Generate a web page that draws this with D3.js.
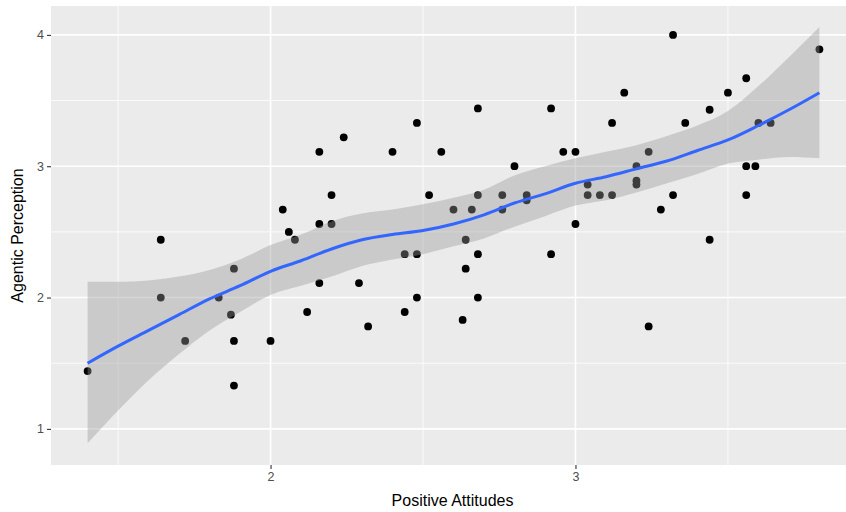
<!DOCTYPE html>
<html>
<head>
<meta charset="utf-8">
<script src="https://cdn.jsdelivr.net/npm/d3@7"></script>
<style>
  body { margin: 0; background: #fff; }
  text { font-family: "Liberation Sans", Arial, Helvetica, sans-serif; }
</style>
</head>
<body>
<div id="chart"></div>
<script>
// scatter points (Positive Attitudes, Agentic Perception)
const pointX = [2.04, 2.06, 2.08, 1.64, 2.16, 2.24, 2.48, 2.40, 2.56, 2.68, 2.92, 2.96, 2.80, 2.20, 2.52,
  2.68, 2.76, 2.84, 2.84, 2.60, 2.66, 2.76, 2.16, 2.20, 2.64, 3.32, 3.80, 3.56, 3.16, 3.50, 3.44, 3.12,
  3.36, 3.60, 3.64, 3.00, 3.24, 3.20, 3.56, 3.59, 3.20, 3.20, 3.04, 3.04, 3.08, 3.12, 3.32, 3.56, 3.28,
  3.00, 3.44, 1.88, 1.64, 1.83, 1.87, 2.12, 1.72, 1.88, 2.00, 1.40, 1.88, 2.44, 2.48, 2.68, 2.92, 2.64,
  2.16, 2.29, 2.48, 2.68, 2.44, 2.63, 2.32, 3.24];
const pointY = [2.67, 2.50, 2.44, 2.44, 3.11, 3.22, 3.33, 3.11, 3.11, 3.44, 3.44, 3.11, 3.00, 2.78, 2.78,
  2.78, 2.78, 2.78, 2.74, 2.67, 2.67, 2.67, 2.56, 2.56, 2.44, 4.00, 3.89, 3.67, 3.56, 3.56, 3.43, 3.33,
  3.33, 3.33, 3.33, 3.11, 3.11, 3.00, 3.00, 3.00, 2.89, 2.86, 2.86, 2.78, 2.78, 2.78, 2.78, 2.78, 2.67,
  2.56, 2.44, 2.22, 2.00, 2.00, 1.87, 1.89, 1.67, 1.67, 1.67, 1.44, 1.33, 2.33, 2.33, 2.33, 2.33, 2.22,
  2.11, 2.11, 2.00, 2.00, 1.89, 1.83, 1.78, 1.78];

// smooth line and its confidence band
const fitX = [1.4, 1.5, 1.6, 1.7, 1.8, 1.9, 2.0, 2.1, 2.2, 2.3, 2.4, 2.5, 2.6, 2.7, 2.8, 2.9,
  3.0, 3.1, 3.2, 3.3, 3.4, 3.5, 3.6, 3.7, 3.8];
const fitY = [1.50, 1.63, 1.75, 1.87, 1.99, 2.09, 2.20, 2.28, 2.37, 2.44, 2.48, 2.51, 2.56, 2.63, 2.72,
  2.79, 2.87, 2.92, 2.98, 3.04, 3.12, 3.20, 3.31, 3.43, 3.56];
const fitLower = [0.89, 1.14, 1.37, 1.57, 1.75, 1.89, 2.02, 2.09, 2.16, 2.24, 2.29, 2.33, 2.39, 2.45,
  2.54, 2.62, 2.70, 2.74, 2.80, 2.87, 2.94, 3.02, 3.05, 3.07, 3.06];
const fitUpper = [2.12, 2.12, 2.13, 2.16, 2.21, 2.29, 2.40, 2.48, 2.58, 2.64, 2.67, 2.71, 2.76, 2.82,
  2.93, 3.00, 3.06, 3.11, 3.16, 3.23, 3.31, 3.42, 3.61, 3.83, 4.06];

const xTicks = [2, 3];
const xMinor = [1.5, 2.5, 3.5];
const yTicks = [1, 2, 3, 4];
const yMinor = [1.5, 2.5, 3.5];

const W = 846, H = 512;
const panel = { left: 51, top: 6, right: 856, bottom: 465 };

const xScale = d3.scaleLinear().domain([1.28, 3.92]).range([panel.left, panel.right]);
const yScale = d3.scaleLinear().domain([0.725, 4.22]).range([panel.bottom, panel.top]);

const svg = d3.select("#chart").append("svg").attr("width", W).attr("height", H);

svg.append("defs").append("clipPath").attr("id", "clip")
  .append("rect")
  .attr("x", panel.left).attr("y", panel.top)
  .attr("width", panel.right - panel.left).attr("height", panel.bottom - panel.top);

// panel background
svg.append("rect")
  .attr("x", panel.left).attr("y", panel.top)
  .attr("width", panel.right - panel.left).attr("height", panel.bottom - panel.top)
  .attr("fill", "#EBEBEB");

const grid = svg.append("g").attr("clip-path", "url(#clip)");

// minor grid
grid.selectAll(".xminor").data(xMinor).enter().append("line")
  .attr("x1", (d) => xScale(d)).attr("x2", (d) => xScale(d))
  .attr("y1", panel.top).attr("y2", panel.bottom)
  .attr("stroke", "#fff").attr("stroke-width", 0.8);
grid.selectAll(".yminor").data(yMinor).enter().append("line")
  .attr("y1", (d) => yScale(d)).attr("y2", (d) => yScale(d))
  .attr("x1", panel.left).attr("x2", panel.right)
  .attr("stroke", "#fff").attr("stroke-width", 0.8);

// major grid
grid.selectAll(".xmajor").data(xTicks).enter().append("line")
  .attr("x1", (d) => xScale(d)).attr("x2", (d) => xScale(d))
  .attr("y1", panel.top).attr("y2", panel.bottom)
  .attr("stroke", "#fff").attr("stroke-width", 1.6);
grid.selectAll(".ymajor").data(yTicks).enter().append("line")
  .attr("y1", (d) => yScale(d)).attr("y2", (d) => yScale(d))
  .attr("x1", panel.left).attr("x2", panel.right)
  .attr("stroke", "#fff").attr("stroke-width", 1.6);

const plot = svg.append("g").attr("clip-path", "url(#clip)");

// points
const points = pointX.map((x, i) => ({ x: x, y: pointY[i] }));
plot.selectAll("circle").data(points).enter().append("circle")
  .attr("cx", (d) => xScale(d.x))
  .attr("cy", (d) => yScale(d.y))
  .attr("r", 3.9)
  .attr("fill", "#000");

// confidence band over the points (as ggplot draws it)
const band = fitX.map((x, i) => ({ x: x, lo: fitLower[i], hi: fitUpper[i], y: fitY[i] }));
plot.append("path")
  .datum(band)
  .attr("d", d3.area()
    .x((d) => xScale(d.x))
    .y0((d) => yScale(d.lo))
    .y1((d) => yScale(d.hi))
    .curve(d3.curveMonotoneX))
  .attr("fill", "#999999")
  .attr("fill-opacity", 0.4);

plot.append("path")
  .datum(band)
  .attr("d", d3.line()
    .x((d) => xScale(d.x))
    .y((d) => yScale(d.y))
    .curve(d3.curveMonotoneX))
  .attr("fill", "none")
  .attr("stroke", "#3366FF")
  .attr("stroke-width", 3);

// axes
const xAxis = d3.axisBottom(xScale).tickValues(xTicks).tickFormat(d3.format("d"))
  .tickSize(4).tickPadding(3);
const gx = svg.append("g")
  .attr("transform", "translate(0," + panel.bottom + ")")
  .call(xAxis);

const yAxis = d3.axisLeft(yScale).tickValues(yTicks).tickFormat(d3.format("d"))
  .tickSize(4).tickPadding(3);
const gy = svg.append("g")
  .attr("transform", "translate(" + panel.left + ",0)")
  .call(yAxis);

[gx, gy].forEach((g) => {
  g.select(".domain").remove();
  g.selectAll(".tick line").attr("stroke", "#333333").attr("stroke-width", 1.1);
  g.selectAll(".tick text")
    .attr("fill", "#4D4D4D")
    .style("font-size", "12.5px");
});

// axis titles
svg.append("text")
  .attr("x", (panel.left + 846) / 2 + 4)
  .attr("y", 506)
  .attr("text-anchor", "middle")
  .style("font-size", "16px")
  .attr("fill", "#000")
  .text("Positive Attitudes");

svg.append("text")
  .attr("transform", "translate(23," + (panel.top + panel.bottom) / 2 + ") rotate(-90)")
  .attr("text-anchor", "middle")
  .style("font-size", "16px")
  .attr("fill", "#000")
  .text("Agentic Perception");
</script>
</body>
</html>
